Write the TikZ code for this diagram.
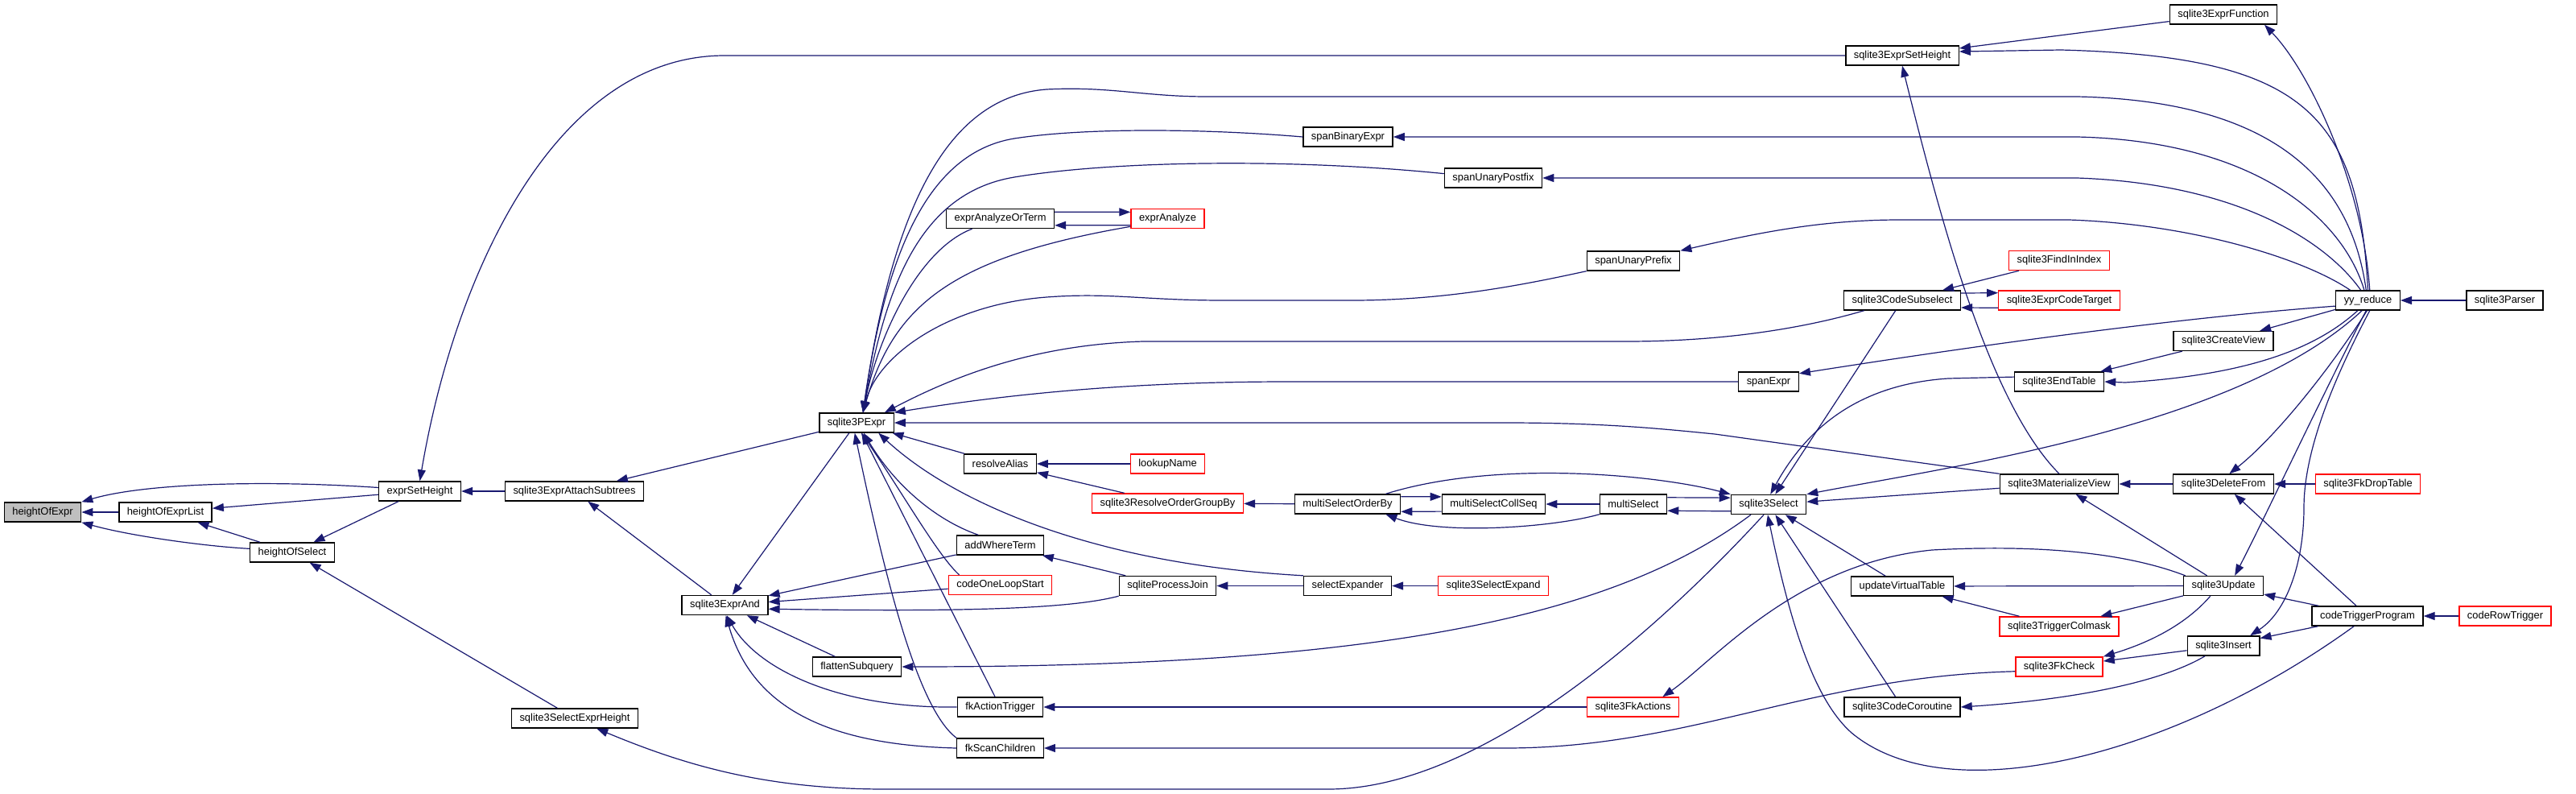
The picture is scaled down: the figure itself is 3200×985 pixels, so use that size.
\documentclass[tikz,border=0pt]{standalone}
\usepackage{fontspec}
\setmainfont{Liberation Sans}
\usetikzlibrary{arrows.meta}

\definecolor{edgeblue}{HTML}{191970}
\definecolor{boxgray}{HTML}{BFBFBF}

\begin{document}
\begin{tikzpicture}[
    x=0.5pt, y=-0.5pt,
    func/.style={draw=black, line width=0.7pt, fill=white, minimum height=12pt,
                 inner xsep=5pt, inner ysep=0pt, font=\fontsize{6.45}{7.5}\selectfont},
    missing/.style={func, draw=red},
    focus/.style={func, fill=boxgray},
    call/.style={draw=edgeblue, line width=0.6pt, {Triangle[length=7pt, width=5pt]}-}
]
\useasboundingbox (0,0) rectangle (3200,985);

% ---- Column 0-3: height helpers ----
\node[focus] (hoe) at (53,636) {heightOfExpr};
\node[func] (hoel) at (205.5,636) {heightOfExprList};
\node[func] (hos) at (363,686) {heightOfSelect};
\node[func] (esh) at (521.5,610) {exprSetHeight};
\node[func] (eas) at (713.5,610) {sqlite3ExprAttachSubtrees};
\node[func] (seh) at (714,892) {sqlite3SelectExprHeight};
\node[func] (exand) at (900.5,751.5) {sqlite3ExprAnd};
\node[func] (pexpr) at (1064,525) {sqlite3PExpr};
\node[func] (flat) at (1064.5,828) {flattenSubquery};

% ---- Column: where / resolve ----
\node[func] (aot) at (1242.5,271.5) {exprAnalyzeOrTerm};
\node[missing] (ana) at (1450.5,271.5) {exprAnalyze};
\node[func] (ralias) at (1242.5,576) {resolveAlias};
\node[missing] (lookup) at (1450.5,576) {lookupName};
\node[missing] (rogb) at (1450.5,625) {sqlite3ResolveOrderGroupBy};
\node[func] (awt) at (1242.5,677) {addWhereTerm};
\node[missing] (olsl) at (1242.5,726.5) {codeOneLoopStart};
\node[func] (pjoin) at (1450.5,727.5) {sqliteProcessJoin};
\node[func] (fkat) at (1242.5,878) {fkActionTrigger};
\node[func] (fksc) at (1242.5,929) {fkScanChildren};

% ---- Column: span / compound select ----
\node[func] (sbin) at (1674.5,170) {spanBinaryExpr};
\node[func] (spost) at (1855,221) {spanUnaryPostfix};
\node[func] (spre) at (2029,324) {spanUnaryPrefix};
\node[func] (msob) at (1674,626) {multiSelectOrderBy};
\node[func] (mscs) at (1855.5,626) {multiSelectCollSeq};
\node[func] (msel) at (2029,626) {multiSelect};
\node[func] (sexp) at (1674,727.5) {selectExpander};
\node[missing] (ssexp) at (1855,727.5) {sqlite3SelectExpand};
\node[missing] (fkact) at (2028.5,878) {sqlite3FkActions};

% ---- Column: select / codegen ----
\node[func] (esth) at (2363,69) {sqlite3ExprSetHeight};
\node[func] (csub) at (2363,373) {sqlite3CodeSubselect};
\node[missing] (fii) at (2558,323.5) {sqlite3FindInIndex};
\node[missing] (ect) at (2558,373) {sqlite3ExprCodeTarget};
\node[func] (spex) at (2197,474) {spanExpr};
\node[func] (etab) at (2558,474) {sqlite3EndTable};
\node[func] (sel) at (2197,626.5) {sqlite3Select};
\node[func] (mview) at (2558,601) {sqlite3MaterializeView};
\node[func] (uvt) at (2363,728) {updateVirtualTable};
\node[missing] (tcm) at (2558,778) {sqlite3TriggerColmask};
\node[missing] (fkchk) at (2558,828) {sqlite3FkCheck};
\node[func] (ccor) at (2363,878) {sqlite3CodeCoroutine};

% ---- Column: parser / statements ----
\node[func] (efun) at (2762,18) {sqlite3ExprFunction};
\node[func] (yyr) at (2941.5,373) {yy\_reduce};
\node[func] (parser) at (3111.5,373) {sqlite3Parser};
\node[func] (cview) at (2762,423.5) {sqlite3CreateView};
\node[func] (delf) at (2762,601) {sqlite3DeleteFrom};
\node[missing] (fkdrop) at (2941.5,601) {sqlite3FkDropTable};
\node[func] (upd) at (2762,727.5) {sqlite3Update};
\node[func] (ctp) at (2941,765) {codeTriggerProgram};
\node[missing] (crt) at (3112,765) {codeRowTrigger};
\node[func] (ins) at (2762,802) {sqlite3Insert};

% ---- Calls: height helpers ----
\draw[call] (hoe) -- (hoel);
\draw[call] (hoe.north east) .. controls (180,600) and (330,596) .. (esh.175);
\draw[call] (hoe.south east) .. controls (160,665) and (250,678) .. (hos.175);
\draw[call] (hoel) -- (esh);
\draw[call] (hoel) -- (hos);
\draw[call] (hos) -- (esh);
\draw[call] (hos) -- (seh);
\draw[call] (esh) -- (eas);
\draw[call] (esh.north) .. controls (565,340) and (690,69) .. (900,69) -- (esth.west);
\draw[call] (eas) -- (pexpr);
\draw[call] (eas) -- (exand);
\draw[call] (exand) -- (pexpr);

% ---- Calls into sqlite3ExprAnd ----
\draw[call] (exand) -- (awt);
\draw[call] (exand) -- (olsl);
\draw[call] (exand.-5) .. controls (1200,760) and (1330,756) .. (pjoin.south west);
\draw[call] (exand) -- (flat);
\draw[call] (exand.-80) .. controls (940,830) and (1040,880) .. (fkat.west);
\draw[call] (exand.-85) .. controls (935,880) and (1030,925) .. (fksc.west);

% ---- Calls into sqlite3PExpr ----
\draw[call] (pexpr) -- (ralias);
\draw[call] (pexpr.-55) .. controls (1110,600) and (1160,645) .. (awt.155);
\draw[call] (pexpr.-65) .. controls (1120,610) and (1165,690) .. (olsl.166);
\draw[call] (pexpr) -- (fkat);
\draw[call] (pexpr.-100) .. controls (1100,720) and (1140,880) .. (fksc.north west);
\draw[call] (pexpr.-25) .. controls (1180,620) and (1350,700) .. (sexp.north west);
\draw[call] (pexpr.east) -- (1870,525) .. controls (1990,525) and (2060,532) .. (2130,539) -- (mview.north west);
\draw[call] ([xshift=4pt]pexpr.north) .. controls (1110,250) and (1180,120) .. (1300,111)
    .. controls (1380,107) and (1420,120) .. (1500,120) -- (2580,120)
    .. controls (2820,125) and (2920,220) .. (yyr.100);
\draw[call] ([xshift=4pt]pexpr.north) .. controls (1100,320) and (1150,190) .. (1260,172)
    .. controls (1350,158) and (1500,160) .. (sbin.west);
\draw[call] ([xshift=4pt]pexpr.north) .. controls (1100,360) and (1140,240) .. (1260,220)
    .. controls (1380,200) and (1600,196) .. (spost.175);
\draw[call] ([xshift=4pt]pexpr.north) .. controls (1090,420) and (1140,310) .. (aot.200);
\draw[call] ([xshift=4pt]pexpr.north) .. controls (1110,380) and (1180,320) .. (ana.192);
\draw[call] ([xshift=4pt]pexpr.north) .. controls (1090,440) and (1180,378) .. (1300,369)
    .. controls (1380,363) and (1420,373) .. (1520,373) -- (1680,373)
    .. controls (1800,373) and (1900,352) .. (spre.south west);
\draw[call] (pexpr.20) .. controls (1180,470) and (1280,428) .. (1420,424) -- (2020,424)
    .. controls (2150,424) and (2250,405) .. (csub.195);
\draw[call] (pexpr.north east) .. controls (1250,490) and (1400,474) .. (1600,474) -- (spex.west);

% ---- Calls: analyze / resolve / join ----
\draw[call] (ana.170) -- (aot.7);
\draw[call] (aot.-7) -- (ana.190);
\draw[call] (ralias) -- (lookup);
\draw[call] (ralias) -- (rogb);
\draw[call] (rogb) -- (msob);
\draw[call] (awt) -- (pjoin);
\draw[call] (pjoin) -- (sexp);
\draw[call] (sexp) -- (ssexp);

% ---- Calls: compound select ----
\draw[call] (mscs.172) -- (msob.8);
\draw[call] (msob.-8) -- (mscs.188);
\draw[call] (mscs) -- (msel);
\draw[call] (msob.-15) .. controls (1790,665) and (1930,655) .. (msel.south west);
\draw[call] (sel.north west) .. controls (2060,590) and (1860,570) .. (msob.15);
\draw[call] (sel.170) -- (msel.11);
\draw[call] (msel.-11) -- (sel.190);

% ---- Calls: sqlite3Select ----
\draw[call] (sel) -- (csub);
\draw[call] (sel.80) .. controls (2240,540) and (2300,478) .. (2420,470) -- (etab.174);
\draw[call] (sel.north east) .. controls (2420,580) and (2780,530) .. (yyr.-120);
\draw[call] (sel) -- (mview);
\draw[call] (sel) -- (uvt);
\draw[call] (sel) -- (ccor);
\draw[call] (sel.-95) .. controls (2225,780) and (2255,870) .. (2300,910)
    .. controls (2420,1010) and (2700,940) .. (ctp.217);
\draw[call] (flat.east) .. controls (1700,828) and (2000,770) .. (sel.210);
\draw[call] (seh.-25) .. controls (850,950) and (950,980) .. (1100,980) -- (1650,980)
    .. controls (1850,980) and (2080,760) .. (sel.-115);

% ---- Calls: codegen ----
\draw[call] (csub) -- (fii);
\draw[call] (ect.173) -- (csub.7);
\draw[call] (csub.-7) -- (ect.187);
\draw[call] (esth.south) .. controls (2410,270) and (2470,500) .. (mview.north);
\draw[call] (esth) -- (efun);
\draw[call] (esth.4) -- (2560,62) .. controls (2860,70) and (2930,140) .. (yyr.90);
\draw[call] (efun.-14) .. controls (2870,90) and (2935,230) .. (yyr.80);
\draw[call] (sbin.east) -- (2580,170) .. controls (2800,175) and (2910,270) .. (yyr.110);
\draw[call] (spost.east) -- (2580,221) .. controls (2780,228) and (2890,300) .. (yyr.125);
\draw[call] (spre.north east) .. controls (2180,290) and (2260,273) .. (2360,273) -- (2570,273)
    .. controls (2720,278) and (2860,320) .. (yyr.150);
\draw[call] (spex.15) .. controls (2450,430) and (2700,395) .. (yyr.190);
\draw[call] (etab) -- (cview);
\draw[call] (etab.east) -- (2640,475) .. controls (2800,465) and (2880,430) .. (yyr.-135);
\draw[call] (cview) -- (yyr);
\draw[call] (yyr) -- (parser);

% ---- Calls: statements ----
\draw[call] (mview) -- (delf);
\draw[call] (mview) -- (upd);
\draw[call] (delf) -- (fkdrop);
\draw[call] (delf.60) .. controls (2830,540) and (2900,450) .. (yyr.-95);
\draw[call] (delf) -- (ctp);
\draw[call] (uvt) -- (upd);
\draw[call] (uvt) -- (tcm);
\draw[call] (tcm) -- (upd);
\draw[call] (fkchk.north east) .. controls (2680,795) and (2720,770) .. (upd.218);
\draw[call] (fkchk) -- (ins);
\draw[call] (fkact.19) .. controls (2130,820) and (2230,700) .. (2400,683)
    .. controls (2550,675) and (2650,690) .. (upd.165);
\draw[call] (fkat) -- (fkact);
\draw[call] (fksc.east) -- (1870,929) .. controls (2100,929) and (2250,840) .. (fkchk.186);
\draw[call] (ccor.east) .. controls (2560,870) and (2680,850) .. (ins.209);
\draw[call] (upd) -- (ctp);
\draw[call] (ins) -- (ctp);
\draw[call] (ctp) -- (crt);
\draw[call] (upd.42) .. controls (2810,650) and (2890,480) .. (yyr.-100);
\draw[call] (ins.21) .. controls (2840,760) and (2862,700) .. (2862,630)
    .. controls (2862,550) and (2910,450) .. (yyr.-80);

\end{tikzpicture}
\end{document}
